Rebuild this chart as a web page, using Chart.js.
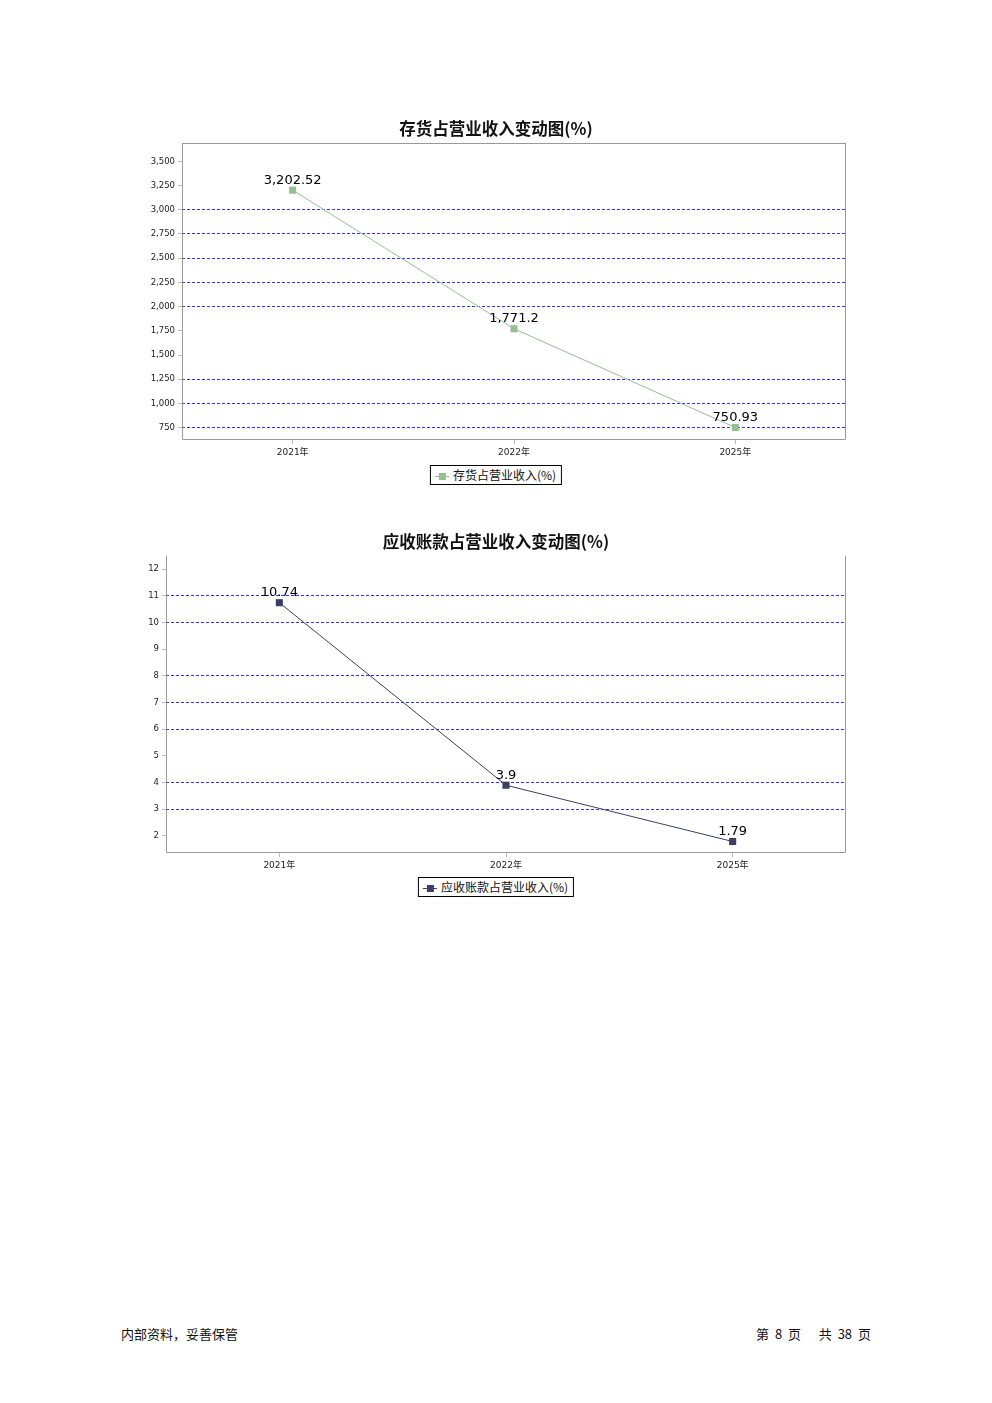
<!DOCTYPE html>
<html>
<head>
<meta charset="utf-8">
<script src="https://cdn.jsdelivr.net/npm/chart.js@4/dist/chart.umd.min.js"></script>
<style>
  body { margin:0; background:#fff; }
  #page { position:relative; width:992px; height:1403px; background:#fff; font-family:"DejaVu Sans","Noto Sans CJK SC",sans-serif; }
  canvas { position:absolute; }
  .legend { position:absolute; left:496px; transform:translateX(-50%); border:1px solid #000; background:#fff; font-size:12px; color:#111; height:18px; line-height:18px; padding:0 5px 0 4px; white-space:nowrap; font-family:"Noto Sans CJK SC","DejaVu Sans",sans-serif; }
  .legend i { display:inline-block; position:relative; width:14px; height:1px; vertical-align:middle; margin-right:4px; }
  .legend i b { position:absolute; left:4px; top:-3px; width:7px; height:7px; }
  .foot { position:absolute; top:1324px; font-size:13px; color:#111; font-family:"Noto Sans CJK SC",sans-serif; }
</style>
</head>
<body>
<div id="page">
  <canvas id="c1" width="730" height="352" style="left:130px;top:110px"></canvas>
  <div class="legend" style="top:465px"><i style="background:#93c093"><b style="background:#93c093"></b></i>存货占营业收入(%)</div>
  <canvas id="c2" width="730" height="352" style="left:130px;top:523px"></canvas>
  <div class="legend" style="top:877px"><i style="background:#3d3d66"><b style="background:#3d3d66"></b></i>应收账款占营业收入(%)</div>
  <div class="foot" style="left:121px">内部资料，妥善保管</div>
  <div class="foot" style="right:121px;word-spacing:3px">第&nbsp;8&nbsp;页&nbsp;&nbsp; 共&nbsp;38&nbsp;页</div>
</div>
<script>
var years = ['2021年', '2022年', '2025年'];
var inventoryRatio = [3202.52, 1771.2, 750.93];
var receivableRatio = [10.74, 3.9, 1.79];
var hiddenGrid1 = [3500, 3250, 1750, 1500];
var hiddenGrid2 = [12, 9, 5, 2];

var fontFam = '"DejaVu Sans","Noto Sans CJK SC",sans-serif';

// frame around plot area
var framePlugin = {
  id: 'frame',
  afterDraw: function(chart, args, opts) {
    var a = chart.chartArea, ctx = chart.ctx;
    ctx.save();
    ctx.strokeStyle = '#999';
    ctx.lineWidth = 1;
    ctx.beginPath();
    if (opts.top) { ctx.moveTo(a.left + 0.5, a.top + 0.5); ctx.lineTo(a.right - 0.5, a.top + 0.5); }
    ctx.moveTo(a.left + 0.5, a.top); ctx.lineTo(a.left + 0.5, a.bottom - 0.5);
    ctx.lineTo(a.right - 0.5, a.bottom - 0.5); ctx.lineTo(a.right - 0.5, a.top);
    ctx.stroke();
    ctx.restore();
  }
};

// value labels above points
var valuePlugin = {
  id: 'values',
  afterDatasetsDraw: function(chart) {
    var ctx = chart.ctx;
    var meta = chart.getDatasetMeta(0);
    var data = chart.data.datasets[0].data;
    ctx.save();
    ctx.font = '13px ' + fontFam;
    ctx.fillStyle = '#000';
    ctx.textAlign = 'center';
    ctx.textBaseline = 'middle';
    meta.data.forEach(function(pt, i) {
      var txt = data[i].toLocaleString('en-US', {maximumFractionDigits: 2});
      ctx.fillText(txt, pt.x, pt.y - 10);
    });
    ctx.restore();
  }
};

function makeChart(id, title, label, values, color, yMin, yMax, step, hidden, yWidth, topBorder) {
  return new Chart(document.getElementById(id), {
    type: 'line',
    data: {
      labels: years,
      datasets: [{
        label: label,
        data: values,
        borderColor: color,
        backgroundColor: color,
        borderWidth: 1,
        pointStyle: 'rect',
        pointRadius: 5,
        pointBorderWidth: 0,
        tension: 0
      }]
    },
    options: {
      responsive: false,
      animation: false,
      layout: { padding: { left: 16, right: 14, top: 0, bottom: 0 } },
      plugins: {
        legend: { display: false },
        tooltip: { enabled: false },
        title: {
          display: true,
          text: title,
          color: '#111',
          font: { family: '"Noto Sans CJK SC","DejaVu Sans",sans-serif', size: 16.5, weight: 'bold', lineHeight: 18 / 16.5 },
          padding: { top: 10, bottom: 5 }
        },
        frame: { top: topBorder }
      },
      scales: {
        x: {
          offset: true,
          border: { display: false },
          grid: { color: 'rgba(0,0,0,0)', tickColor: '#bbb', tickLength: 4 },
          ticks: { color: '#222', font: { family: fontFam, size: 9 }, padding: 3 },
          afterFit: function(s) { s.height = 22; }
        },
        y: {
          min: yMin,
          max: yMax,
          border: { display: false, dash: [3, 2] },
          grid: {
            color: function(c) {
              if (!c.tick || hidden.indexOf(c.tick.value) >= 0) return 'rgba(0,0,0,0)';
              return '#3333ff';
            },
            tickColor: '#bbb',
            tickLength: 4,
            lineWidth: 1
          },
          ticks: {
            stepSize: step,
            maxTicksLimit: 30,
            includeBounds: false,
            color: '#222',
            font: { family: fontFam, size: 8.5 },
            padding: 3,
            callback: function(v) { return v.toLocaleString('en-US'); }
          },
          afterFit: function(s) { s.width = yWidth; }
        }
      }
    },
    plugins: [framePlugin, valuePlugin]
  });
}

makeChart('c1', '存货占营业收入变动图(%)', '存货占营业收入(%)', inventoryRatio, '#93c093',
  622, 3690, 250, hiddenGrid1, 36, true);
makeChart('c2', '应收账款占营业收入变动图(%)', '应收账款占营业收入(%)', receivableRatio, '#3d3d66',
  1.36, 12.49, 1, hiddenGrid2, 20, false);
</script>
</body>
</html>
